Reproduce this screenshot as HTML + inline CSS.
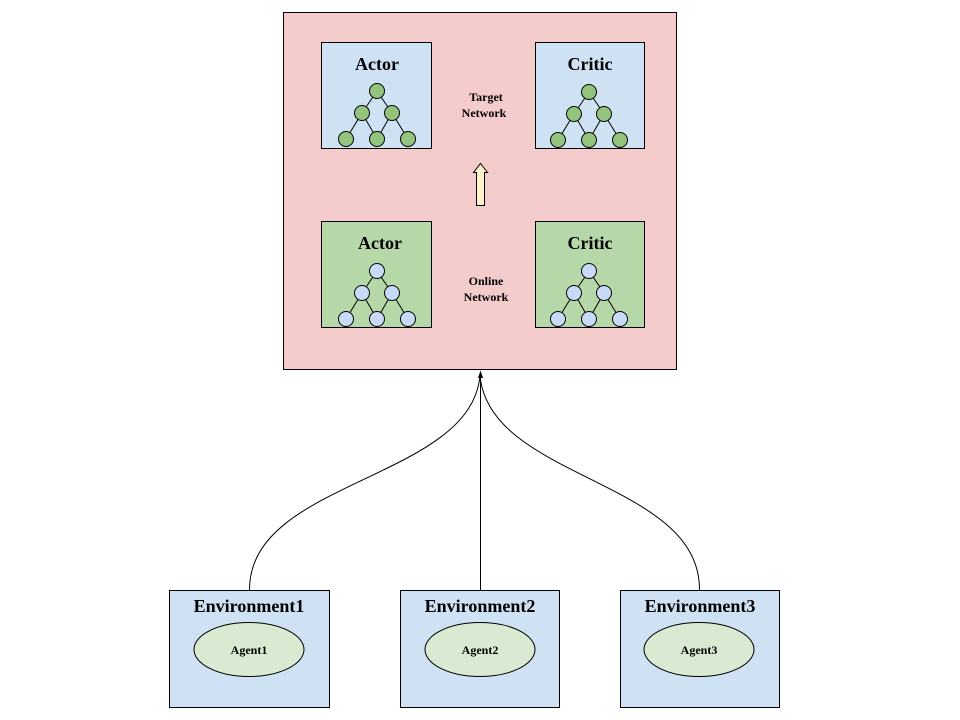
<!DOCTYPE html>
<html><head><meta charset="utf-8"><style>
html,body{margin:0;padding:0;background:#fff;}
svg{display:block;}
text{font-family:"Liberation Serif",serif;font-weight:bold;fill:#000;text-anchor:middle;}
</style></head><body>
<svg width="960" height="720" viewBox="0 0 960 720" xmlns="http://www.w3.org/2000/svg">
<defs>
<g id="treeG">
<line x1="0" y1="0" x2="-15" y2="22" stroke="#000"/><line x1="0" y1="0" x2="15" y2="22" stroke="#000"/>
<line x1="-15" y1="22" x2="-31" y2="48" stroke="#000"/><line x1="-15" y1="22" x2="0" y2="48" stroke="#000"/>
<line x1="15" y1="22" x2="0" y2="48" stroke="#000"/><line x1="15" y1="22" x2="31" y2="48" stroke="#000"/>
</g>
</defs>
<rect x="283.5" y="12.5" width="393" height="357" fill="#f4cccc" stroke="#000"/>
<rect x="321.5" y="42.5" width="110" height="106" fill="#cfe2f3" stroke="#000"/>
<rect x="535.5" y="42.5" width="109" height="106" fill="#cfe2f3" stroke="#000"/>
<rect x="321.5" y="221.5" width="110" height="106" fill="#b6d7a8" stroke="#000"/>
<rect x="535.5" y="221.5" width="109" height="106" fill="#b6d7a8" stroke="#000"/>
<text x="377" y="70" font-size="18">Actor</text>
<text x="590" y="70" font-size="18">Critic</text>
<text x="380" y="249" font-size="18">Actor</text>
<text x="590" y="249" font-size="18">Critic</text>
<text x="486" y="101" font-size="12">Target</text>
<text x="484" y="117" font-size="12">Network</text>
<text x="486" y="285" font-size="12">Online</text>
<text x="486" y="301" font-size="12">Network</text>
<g transform="translate(377,91)"><use href="#treeG"/>
<g fill="#93c47d" stroke="#000"><circle cx="0" cy="0" r="7.5"/><circle cx="-15" cy="22" r="7.5"/><circle cx="15" cy="22" r="7.5"/><circle cx="-31" cy="48" r="7.5"/><circle cx="0" cy="48" r="7.5"/><circle cx="31" cy="48" r="7.5"/></g></g>
<g transform="translate(589,92)"><use href="#treeG"/>
<g fill="#93c47d" stroke="#000"><circle cx="0" cy="0" r="7.5"/><circle cx="-15" cy="22" r="7.5"/><circle cx="15" cy="22" r="7.5"/><circle cx="-31" cy="48" r="7.5"/><circle cx="0" cy="48" r="7.5"/><circle cx="31" cy="48" r="7.5"/></g></g>
<g transform="translate(377,271)"><use href="#treeG"/>
<g fill="#c9daf8" stroke="#000"><circle cx="0" cy="0" r="7.5"/><circle cx="-15" cy="22" r="7.5"/><circle cx="15" cy="22" r="7.5"/><circle cx="-31" cy="48" r="7.5"/><circle cx="0" cy="48" r="7.5"/><circle cx="31" cy="48" r="7.5"/></g></g>
<g transform="translate(589,271)"><use href="#treeG"/>
<g fill="#c9daf8" stroke="#000"><circle cx="0" cy="0" r="7.5"/><circle cx="-15" cy="22" r="7.5"/><circle cx="15" cy="22" r="7.5"/><circle cx="-31" cy="48" r="7.5"/><circle cx="0" cy="48" r="7.5"/><circle cx="31" cy="48" r="7.5"/></g></g>
<path d="M480.5 163.5 L487.5 172.5 L484.5 172.5 L484.5 205.5 L476.5 205.5 L476.5 172.5 L473.5 172.5 Z" fill="#fff2cc" stroke="#000"/>
<g fill="none" stroke="#000" stroke-width="1">
<path d="M249.5 590 C249 480 470 480 480 376"/>
<path d="M480.5 590 L480.5 376"/>
<path d="M699.5 590 C700 480 490 480 480 376"/>
</g>
<path d="M480.5 370.5 L478 378 L483 378 Z" fill="#000"/>
<rect x="169.5" y="590.5" width="160" height="117" fill="#cfe2f3" stroke="#000"/>
<rect x="400.5" y="590.5" width="159" height="117" fill="#cfe2f3" stroke="#000"/>
<rect x="620.5" y="590.5" width="159" height="117" fill="#cfe2f3" stroke="#000"/>
<text x="249" y="612" font-size="18">Environment1</text>
<text x="480" y="612" font-size="18">Environment2</text>
<text x="700" y="612" font-size="18">Environment3</text>
<g fill="#d9ead3" stroke="#000">
<ellipse cx="249" cy="649.5" rx="55" ry="27"/>
<ellipse cx="480" cy="649.5" rx="55" ry="27"/>
<ellipse cx="699" cy="649.5" rx="55" ry="27"/>
</g>
<text x="249" y="654" font-size="12">Agent1</text>
<text x="480" y="654" font-size="12">Agent2</text>
<text x="699" y="654" font-size="12">Agent3</text>
</svg>
</body></html>
